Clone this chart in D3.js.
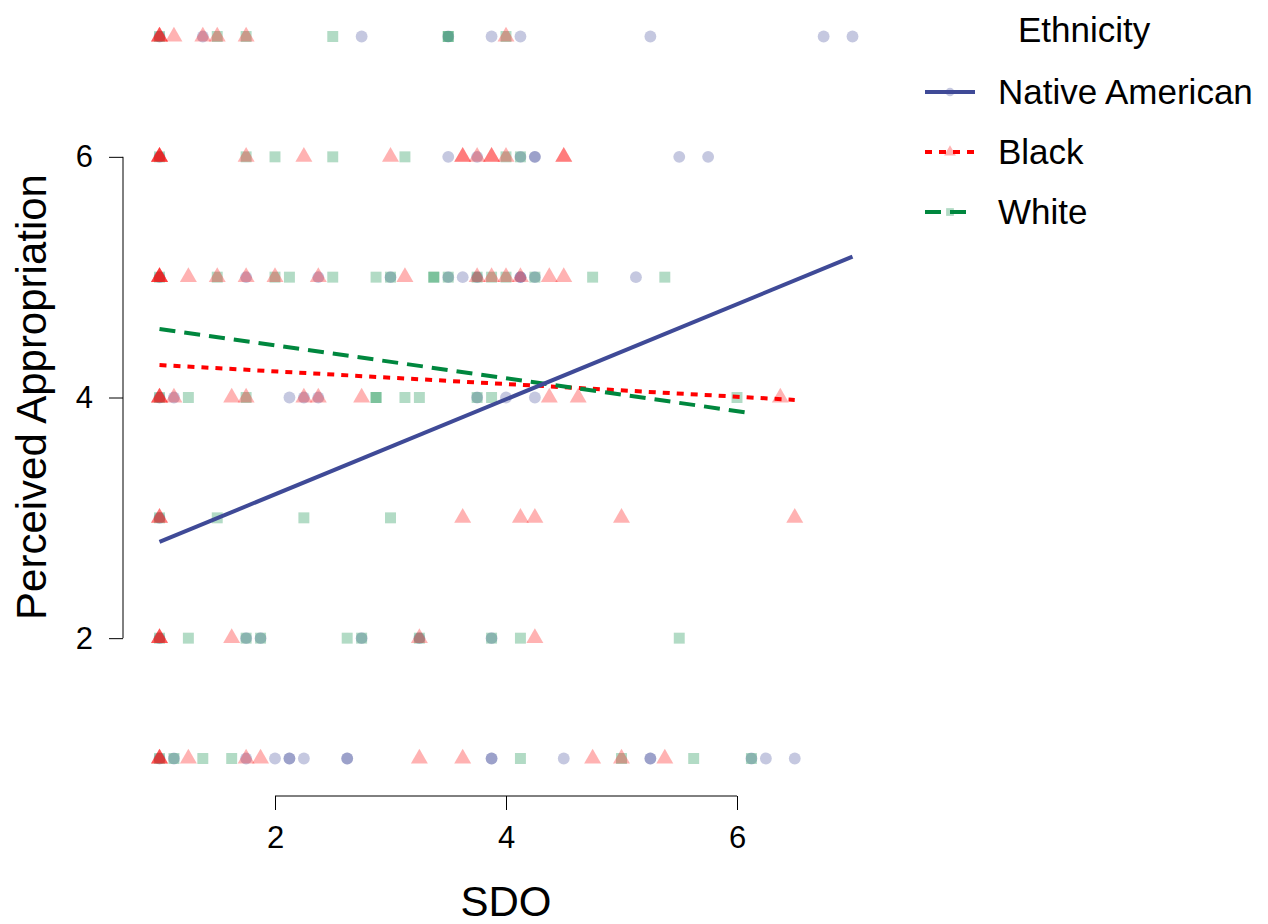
<!DOCTYPE html>
<meta charset="utf-8">
<style>
body { margin: 0; background: #fff; }
text { font-family: "Liberation Sans", Arial, sans-serif; fill: #000; }
.axis line, .axis path { stroke: #000; stroke-width: 1px; }
.axis text { font-size: 31px; }
.fit { fill: none; stroke-width: 4px; }
</style>
<svg width="1268" height="924"></svg>
<script src="https://cdn.jsdelivr.net/npm/d3@7"></script>
<script>

// SDO scores at each level of perceived appropriation, per group
var nativeRows = {
  7: [1, 1.375, 2.75, 3.5, 3.875, 4.125, 5.25, 6.75, 7],
  6: [1, 3.5, 3.75, 4.125, 4.25, 4.25, 5.5, 5.75],
  5: [1, 1.75, 2.375, 3, 3.5, 3.625, 3.75, 4.125, 4.125, 4.25, 5.125],
  4: [1, 1.125, 2.125, 2.25, 2.375, 3.75, 4, 4.25],
  3: [1],
  2: [1, 1.75, 1.875, 2.75, 3.25, 3.875],
  1: [1, 1.125, 1.75, 2, 2.125, 2.125, 2.25, 2.625, 2.625, 3.875, 3.875, 4.5, 5.25, 5.25, 6.125, 6.25, 6.5]
};

var blackRows = {
  7: [1, 1, 1, 1.125, 1.375, 1.5, 1.75, 4],
  6: [1, 1, 1, 1, 1.75, 2.25, 3, 3.625, 3.625, 3.75, 3.875, 3.875, 4, 4.5, 4.5],
  5: [1, 1, 1, 1, 1.25, 1.5, 1.75, 2, 2.375, 3.125, 3.75, 3.875, 4, 4.125, 4.375, 4.5],
  4: [1, 1, 1, 1.125, 1.625, 1.75, 2.25, 2.375, 2.75, 4.375, 4.625, 6.375],
  3: [1, 1, 3.625, 4.125, 4.25, 5, 6.5],
  2: [1, 1, 1, 1.625, 3.25, 4.25],
  1: [1, 1, 1, 1.25, 1.75, 1.875, 3.25, 3.625, 4.75, 5, 5.375]
};

var whiteRows = {
  7: [1, 1.5, 1.75, 2.5, 3.5, 3.5, 4],
  6: [1, 1.75, 2, 2.5, 3.125, 4, 4.125],
  5: [1, 1.5, 2, 2.125, 2.5, 2.875, 3, 3.375, 3.375, 3.5, 3.75, 3.875, 4, 4.25, 4.75, 5.375],
  4: [1, 1.25, 1.75, 2.875, 2.875, 3.125, 3.25, 3.75, 3.875, 6],
  3: [1, 1.5, 2.25, 3],
  2: [1, 1.25, 1.75, 1.875, 2.625, 2.75, 3.25, 3.875, 4.125, 5.5],
  1: [1, 1.125, 1.375, 1.625, 4.125, 5, 5.625, 6.125]
};

// fitted lines: [sdo, appropriation] at the ends of each group's range
var nativeFit = [[1, 2.80], [7, 5.17]];
var blackFit = [[1, 4.27], [6.5, 3.98]];
var whiteFit = [[1, 4.57], [6.125, 3.87]];

var groups = ["Native American", "Black", "White"];
var xTicks = [2, 4, 6];
var yTicks = [2, 4, 6];

var svg = d3.select("svg");

var x = d3.scaleLinear().domain([1, 7]).range([159.5, 852.5]),
    y = d3.scaleLinear().domain([1, 7]).range([758.5, 36.5]);

var lineColor = {"Native American": "#3f4a97", "Black": "#ff0000", "White": "#00873e"};
var dash = {"Native American": null, "Black": "7,7", "White": "16,9"};
var shape = {"Native American": d3.symbolCircle, "Black": d3.symbolTriangle, "White": d3.symbolSquare};
var size = {"Native American": 110, "Black": 125, "White": 120};

function toPoints(rows) {
  var pts = [];
  Object.keys(rows).forEach(function(k) {
    rows[k].forEach(function(s) { pts.push([s, +k]); });
  });
  return pts;
}

var sets = [
  {id: "Native American", pts: toPoints(nativeRows), fit: nativeFit},
  {id: "White", pts: toPoints(whiteRows), fit: whiteFit},
  {id: "Black", pts: toPoints(blackRows), fit: blackFit}
];

// points
sets.forEach(function(s) {
  svg.append("g").selectAll("path")
    .data(s.pts)
    .enter().append("path")
      .attr("transform", function(d) { return "translate(" + x(d[0]) + "," + y(d[1]) + ")"; })
      .attr("d", d3.symbol().type(shape[s.id]).size(size[s.id]))
      .attr("fill", lineColor[s.id])
      .attr("fill-opacity", 0.3);
});

var line = d3.line()
    .x(function(d) { return x(d[0]); })
    .y(function(d) { return y(d[1]); });

// fit lines
[sets[2], sets[1], sets[0]].forEach(function(s) {
  svg.append("path")
      .attr("class", "fit")
      .attr("d", line(s.fit))
      .attr("stroke", lineColor[s.id])
      .attr("stroke-dasharray", dash[s.id]);
});

// axes
var gx = svg.append("g")
    .attr("class", "axis")
    .attr("transform", "translate(0,796)")
    .call(d3.axisBottom(x).tickValues(xTicks).tickFormat(d3.format("d"))
      .tickSize(14).tickPadding(16).tickSizeOuter(0));
gx.select(".domain").remove();
gx.append("line").attr("x1", x(xTicks[0])).attr("x2", x(xTicks[xTicks.length - 1]));
gx.selectAll("text").attr("fill", "#000");

var gy = svg.append("g")
    .attr("class", "axis")
    .attr("transform", "translate(123,0)")
    .call(d3.axisLeft(y).tickValues(yTicks).tickFormat(d3.format("d"))
      .tickSize(14).tickPadding(16).tickSizeOuter(0));
gy.select(".domain").remove();
gy.append("line").attr("y1", y(yTicks[0])).attr("y2", y(yTicks[yTicks.length - 1]));
gy.selectAll("text").attr("fill", "#000");

svg.append("text")
    .attr("x", 506)
    .attr("y", 916)
    .attr("text-anchor", "middle")
    .style("font-size", "42px")
    .text("SDO");

svg.append("text")
    .attr("transform", "translate(46,397) rotate(-90)")
    .attr("text-anchor", "middle")
    .style("font-size", "42px")
    .text("Perceived Appropriation");

// legend
var legend = svg.append("g");
legend.append("text")
    .attr("x", 1018)
    .attr("y", 42)
    .style("font-size", "35px")
    .text("Ethnicity");

groups.forEach(function(gname, i) {
  var cy = 92 + i * 60;
  legend.append("line")
      .attr("x1", 925).attr("x2", 975)
      .attr("y1", cy).attr("y2", cy)
      .attr("stroke", lineColor[gname])
      .attr("stroke-width", 4)
      .attr("stroke-dasharray", dash[gname]);
  legend.append("path")
      .attr("transform", "translate(950," + cy + ")")
      .attr("d", d3.symbol().type(shape[gname]).size(60))
      .attr("fill", lineColor[gname])
      .attr("fill-opacity", 0.3);
  legend.append("text")
      .attr("x", 998)
      .attr("y", cy + 12)
      .style("font-size", "35px")
      .text(gname);
});

</script>
